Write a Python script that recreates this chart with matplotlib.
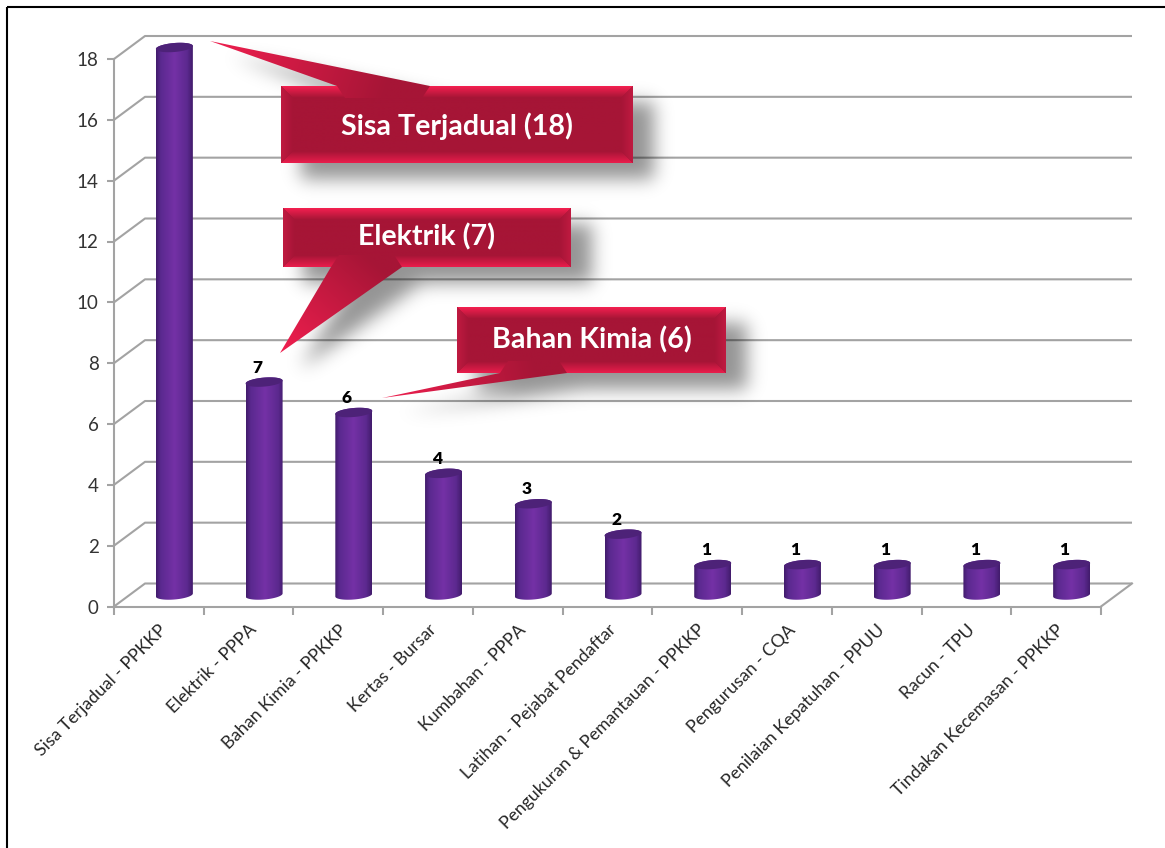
import numpy as np
import matplotlib
matplotlib.use('Agg')
import matplotlib.pyplot as plt
from matplotlib.colors import to_rgb
from matplotlib.patches import Polygon
from matplotlib.path import Path

plt.rcParams['font.family'] = ['Lato', 'DejaVu Sans']

categories = ['Sisa Terjadual - PPKKP', 'Elektrik - PPPA', 'Bahan Kimia - PPKKP',
              'Kertas - Bursar', 'Kumbahan - PPPA', 'Latihan - Pejabat Pendaftar',
              'Pengukuran & Pemantauan - PPKKP', 'Pengurusan - CQA',
              'Penilaian Kepatuhan - PPUU', 'Racun - TPU', 'Tindakan Kecemasan - PPKKP']
values = [18, 7, 6, 4, 3, 2, 1, 1, 1, 1, 1]
y_ticks = list(range(0, 20, 2))

callout_text = ['Sisa Terjadual (18)', 'Elektrik (7)', 'Bahan Kimia (6)']
callout_rect = [(281, 86, 633, 163), (283, 208, 571, 267), (457, 307, 726, 373)]
callout_tip = [(210, 41), (280, 353), (382, 398)]
callout_base = [(337, 430), (331, 402), (500, 567)]
callout_text_y = [126, 237, 340]

W, H = 1165, 848
GRID = '#a3a3a3'

# plot area in pixels (front plane of the 3d box)
left, right, top, bottom = 114, 1101, 59, 606.5
ux = (right - left) / 11
uy = (bottom - top) / 18
depth_x = 31 / ux
depth_y = 23 / uy

fig = plt.figure(figsize=(W / 100, H / 100), dpi=100, facecolor='white')
ax = fig.add_axes([left / W, 1 - bottom / H, (right - left) / W, (bottom - top) / H])
ax.set_xlim(0, 11)
ax.set_ylim(0, 18)
ax.patch.set_alpha(0)

for s in ['top', 'right']:
    ax.spines[s].set_visible(False)
for s in ['left', 'bottom']:
    ax.spines[s].set_color(GRID)
    ax.spines[s].set_linewidth(1.5)

ax.set_yticks(y_ticks)
ax.set_xticks(range(12))
ax.set_xticklabels([])
ax.set_xticks(np.arange(11) + 0.5, categories, minor=True, rotation=45, ha='right',
              va='top', rotation_mode='anchor', fontsize=12.7, color='#262626')
ax.tick_params(axis='y', length=5, width=1.5, color=GRID, labelsize=13.5, labelcolor='#333333', pad=6)
ax.tick_params(axis='x', which='major', length=6, width=1.5, color=GRID)
ax.tick_params(axis='x', which='minor', length=0, pad=11)

# back wall lines and side wall diagonals
for v in y_ticks:
    ax.plot([0, depth_x, 11 + depth_x], [v, v + depth_y, v + depth_y], color=GRID, lw=1.5,
            clip_on=False, zorder=1, solid_capstyle='butt')
ax.plot([11, 11 + depth_x], [0, depth_y], color=GRID, lw=1.5, clip_on=False, zorder=1)


def shade(t_stops, colors, n=64):
    t = np.linspace(0, 1, n)
    rgb = np.array([np.interp(t, t_stops, [to_rgb(c)[i] for c in colors]) for i in range(3)])
    return rgb.T[np.newaxis, :, :]


# cylinders
half_w = 18.5 / ux
ell_h = 4.5 / uy
tilt = 1.5 / uy
theta = np.linspace(0, np.pi, 40)
body_img = shade([0, 0.12, 0.5, 0.85, 1], ['#421c6c', '#5a298f', '#7431a6', '#5c298f', '#421c6c'])
for i, val in enumerate(values):
    cx = i + 0.5 + depth_x / 2
    base = depth_y / 2
    topv = val + depth_y / 2
    xs = cx + half_w * np.cos(theta)
    low = base - ell_h * np.sin(theta) + tilt * np.cos(theta)
    up = topv + ell_h * np.sin(theta) + tilt * np.cos(theta)
    under = topv - ell_h * np.sin(theta) + tilt * np.cos(theta)
    verts = np.r_[np.c_[xs[::-1], low[::-1]], np.c_[xs, up]]
    body = Polygon(verts, closed=True, transform=ax.transData, fc='none', ec='none')
    ax.add_patch(body)
    im = ax.imshow(body_img, extent=(cx - half_w, cx + half_w, -1, val + 2), aspect='auto',
                   zorder=3, interpolation='bilinear')
    im.set_clip_box(fig.bbox)
    im.set_clip_path(body)
    lid = np.r_[np.c_[xs, up], np.c_[xs[::-1], under[::-1]]]
    ax.add_patch(Polygon(lid, closed=True, fc='#4d2278', ec='none', zorder=4, clip_on=False))
    ax.annotate(str(val), (cx, topv), xytext=(-5, 10.5), textcoords='offset points', ha='center',
                va='center', fontsize=12.5, fontweight='heavy', color='black', zorder=5)
ax.set_xlim(0, 11)
ax.set_ylim(0, 18)

# overlay in pixel coordinates for the callouts and the frame
ov = fig.add_axes([0, 0, 1, 1], zorder=10)
ov.axis('off')
ov.patch.set_alpha(0)


def grad_poly(verts, p0, p1, c0, c1):
    verts = np.asarray(verts, float)
    x0, y0 = np.floor(verts.min(axis=0))
    x1, y1 = np.ceil(verts.max(axis=0))
    xx, yy = np.meshgrid(np.linspace(x0, x1, int(x1 - x0) + 1), np.linspace(y0, y1, int(y1 - y0) + 1))
    d = np.array(p1, float) - np.array(p0, float)
    t = ((xx - p0[0]) * d[0] + (yy - p0[1]) * d[1]) / (d @ d)
    t = np.clip(t, 0, 1)[..., np.newaxis]
    img = np.array(to_rgb(c0)) * (1 - t) + np.array(to_rgb(c1)) * t
    im = ov.imshow(img, extent=(x0, x1, y1, y0), aspect='auto', interpolation='bilinear', zorder=3)
    clip = Polygon(verts, closed=True, transform=ov.transData, fc='none', ec='none')
    ov.add_patch(clip)
    im.set_clip_path(clip)


# blurred shadow behind the callouts
shadow_off = (20, 15)
yy, xx = np.mgrid[0:H, 0:W]
pts = np.c_[xx.ravel(), yy.ravel()]
mask = np.zeros((H, W))
for (x0, y0, x1, y1), tip, (b0, b1) in zip(callout_rect, callout_tip, callout_base):
    edge = y0 if tip[1] < y0 else y1
    for poly in ([(x0, y0), (x1, y0), (x1, y1), (x0, y1)], [tip, (b0, edge), (b1, edge)]):
        p = np.array(poly, float) + shadow_off
        mask = np.maximum(mask, Path(p).contains_points(pts).reshape(H, W).astype(float))
fy = np.fft.fftfreq(H)[:, np.newaxis]
fx = np.fft.fftfreq(W)[np.newaxis, :]
sigma = 9
blur = np.fft.ifft2(np.fft.fft2(mask) * np.exp(-2 * (np.pi * sigma) ** 2 * (fx ** 2 + fy ** 2))).real
rgba = np.zeros((H, W, 4))
rgba[..., 3] = np.clip(blur, 0, 1) * 0.42
ov.imshow(rgba, extent=(0, W, H, 0), aspect='auto', zorder=2)

BRIGHT = '#f2204f'
MID = '#a61536'
SIDE = '#bf1a41'
bev = 12
for (x0, y0, x1, y1), tip, (b0, b1), label, ty in zip(callout_rect, callout_tip, callout_base, callout_text, callout_text_y):
    bv = bev
    grad_poly([(x0, y0), (x1, y0), (x1, y1), (x0, y1)], (x0, y0), (x0, y1), MID, MID)
    grad_poly([(x0, y0), (x1, y0), (x1 - bv, y0 + bv), (x0 + bv, y0 + bv)], (x0, y0), (x0, y0 + bv), BRIGHT, MID)
    grad_poly([(x0, y1), (x1, y1), (x1 - bv, y1 - bv), (x0 + bv, y1 - bv)], (x0, y1), (x0, y1 - bv), '#e81d4c', MID)
    grad_poly([(x0, y0), (x0 + bv, y0 + bv), (x0 + bv, y1 - bv), (x0, y1)], (x0, y0), (x0 + bv, y0), SIDE, MID)
    grad_poly([(x1, y0), (x1 - bv, y0 + bv), (x1 - bv, y1 - bv), (x1, y1)], (x1, y0), (x1 - bv, y0), SIDE, MID)
    # pointer, fades from the box colour to the bright tip
    edge = y0 if tip[1] < y0 else y1
    sign = 1 if tip[1] < y0 else -1
    inner = edge + sign * bv
    mid_x = (b0 + b1) / 2
    grad_poly([tip, (b0, edge), (b0 + 8, inner), (b1 - 8, inner), (b1, edge)], (mid_x, inner), tip, MID, '#f01f4f')
    ov.text((x0 + x1) / 2, ty, label, color='white', fontsize=20.6, fontweight='bold', ha='center', va='center', zorder=5)

# frame: only left and top edges show
ov.plot([7, 7], [7, H], color='black', lw=1.5, zorder=6, solid_capstyle='butt')
ov.plot([7, W], [7, 7], color='black', lw=1.5, zorder=6, solid_capstyle='butt')
ov.set_xlim(0, W)
ov.set_ylim(H, 0)

plt.savefig('out.png', dpi=100)
